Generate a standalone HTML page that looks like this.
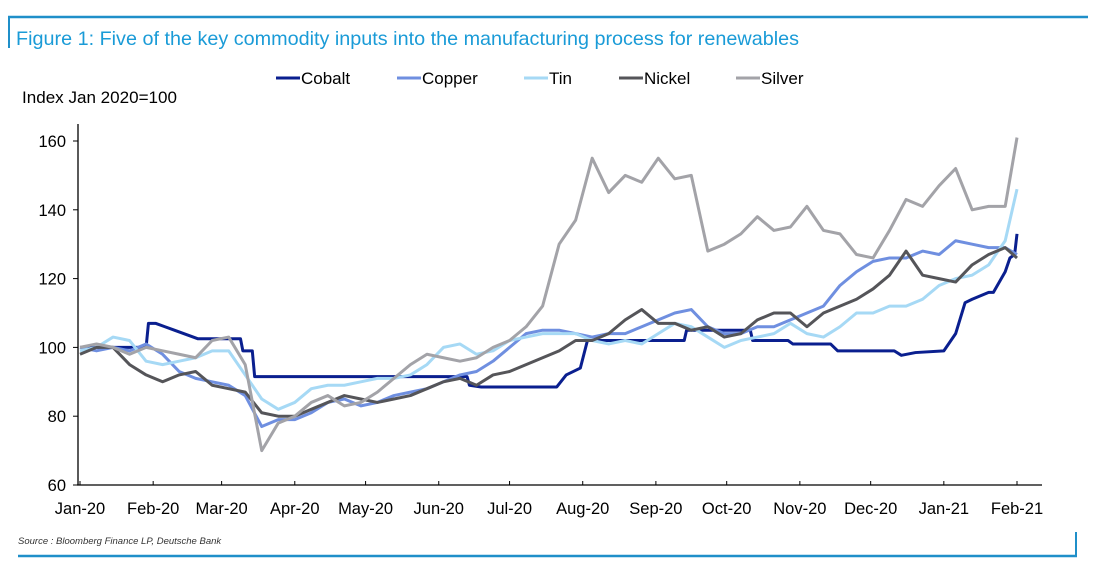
<!DOCTYPE html>
<html><head><meta charset="utf-8"><style>
body{margin:0;background:#fff;width:1095px;height:573px;overflow:hidden;font-family:"Liberation Sans",sans-serif}
</style></head><body>
<svg width="1095" height="573" xmlns="http://www.w3.org/2000/svg">
<line x1="8" y1="17" x2="1088" y2="17" stroke="#1f8fc9" stroke-width="2.5"/>
<line x1="9" y1="17" x2="9" y2="48" stroke="#1f8fc9" stroke-width="2"/>
<text x="16" y="45" font-size="19.5" fill="#1a9bd7" textLength="783" lengthAdjust="spacingAndGlyphs">Figure 1: Five of the key commodity inputs into the manufacturing process for renewables</text>
<text x="22" y="103" font-size="16.5" fill="#000" textLength="155" lengthAdjust="spacingAndGlyphs">Index Jan 2020=100</text>
<g id="legend"></g>
<g id="axes"></g>
<g id="plot"></g>
<text x="18" y="544" font-size="9.5" font-style="italic" fill="#333">Source : Bloomberg Finance LP, Deutsche Bank</text>
<line x1="18" y1="556" x2="1077" y2="556" stroke="#1f8fc9" stroke-width="2.5"/>
<line x1="1076" y1="532" x2="1076" y2="557" stroke="#1f8fc9" stroke-width="2"/>
</svg>
<script>
const monthLabels=["Jan-20","Feb-20","Mar-20","Apr-20","May-20","Jun-20","Jul-20","Aug-20","Sep-20","Oct-20","Nov-20","Dec-20","Jan-21","Feb-21"];
const monthDays=[0,31,60,91,121,152,182,213,244,274,305,335,366,397];
const yTicks=[60,80,100,120,140,160];
const weekDays=[0,7,14,21,28,35,42,49,56,63,70,77,84,91,98,105,112,119,126,133,140,147,154,161,168,175,182,189,196,203,210,217,224,231,238,245,252,259,266,273,280,287,294,301,308,315,322,329,336,343,350,357,364,371,378,385,392,397];
const silver=[100,101,100,98,100,99,98,97,102,103,95,70,78,80,84,86,83,84,87,91,95,98,97,96,97,100,102,106,112,130,137,155,145,150,148,155,149,150,128,130,133,138,134,135,141,134,133,127,126,134,143,141,147,152,140,141,141,161];
const copper=[100,99,100,99,101,98,93,91,90,89,86,77,79,79,81,84,85,83,84,86,87,88,90,92,93,96,100,104,105,105,104,103,104,104,106,108,110,111,106,104,104,106,106,108,110,112,118,122,125,126,126,128,127,131,130,129,129,127];
const tin=[99,100,103,102,96,95,96,97,99,99,92,85,82,84,88,89,89,90,91,91,92,95,100,101,98,99,102,103,104,104,104,102,101,102,101,104,107,106,103,100,102,103,104,107,104,103,106,110,110,112,112,114,118,120,121,124,131,146];
const nickel=[98,100,100,95,92,90,92,93,89,88,87,81,80,80,82,84,86,85,84,85,86,88,90,91,89,92,93,95,97,99,102,102,104,108,111,107,107,105,106,103,104,108,110,110,106,110,112,114,117,121,128,121,120,119,124,127,129,126];
const cobaltDays=[0,20,28,29,32,36,40,50,68,69,70,73,74,164,165,170,202,206,212,215,230,256,257,284,285,300,302,318,321,345,348,354,366,371,375,378,385,387,392,394,396,397];
const cobalt=[100,100,100,107,107,106,105,102.5,102.5,99,99,99,91.5,91.5,89,88.5,88.5,92,94,102,102,102,105,105,102,102,101,101,99,99,97.7,98.5,99,104,113,114,116,116,122,126,127,133];
const series=[["cobalt","Cobalt","#0a1f8f",cobaltDays,cobalt],["copper","Copper","#6f8fe0",weekDays,copper],["tin","Tin","#a6d9f5",weekDays,tin],["nickel","Nickel","#555559",weekDays,nickel],["silver","Silver","#a3a3a8",weekDays,silver]];
const NS="http://www.w3.org/2000/svg";
const X=d=>80+d*(937/397);
const Y=v=>485-(v-60)*3.44;
function mk(t,a,p){const e=document.createElementNS(NS,t);for(const k in a)e.setAttribute(k,a[k]);p.appendChild(e);return e;}
const axes=document.getElementById('axes'),plot=document.getElementById('plot'),leg=document.getElementById('legend');
let ya=mk('line',{x1:78,y1:124,x2:78,y2:485,stroke:'#000','stroke-width':1.3},axes);


let xa=mk('line',{x1:77,y1:485,x2:1042,y2:485,stroke:'#000','stroke-width':1.3},axes);


yTicks.forEach(v=>{
  mk('line',{x1:73,y1:Y(v),x2:78,y2:Y(v),stroke:'#000'},axes);
  const t=mk('text',{x:66,y:Y(v)+6,'text-anchor':'end','font-size':16.5},axes);
  t.textContent=v;
  
  
});
monthLabels.forEach((m,i)=>{
  mk('line',{x1:X(monthDays[i]),y1:481,x2:X(monthDays[i]),y2:485,stroke:'#000'},axes);
  const t=mk('text',{x:X(monthDays[i]),y:514,'text-anchor':'middle','font-size':16.5},axes);
  t.textContent=m;
  
  
});
const legX=[276,397,524,619,736];
series.forEach((s,i)=>{
  const p=mk('polyline',{points:s[3].map((d,j)=>X(d)+','+Y(s[4][j])).join(' '),fill:'none',stroke:s[2],'stroke-width':3,'stroke-linejoin':'round'},plot);
  
  
  const g=mk('g',{},leg);
  
  
  mk('line',{x1:legX[i],y1:78,x2:legX[i]+24,y2:78,stroke:s[2],'stroke-width':3},g);
  const t=mk('text',{x:legX[i]+25,y:84,'font-size':17},g);
  t.textContent=s[1];
});
</script>
</body></html>
